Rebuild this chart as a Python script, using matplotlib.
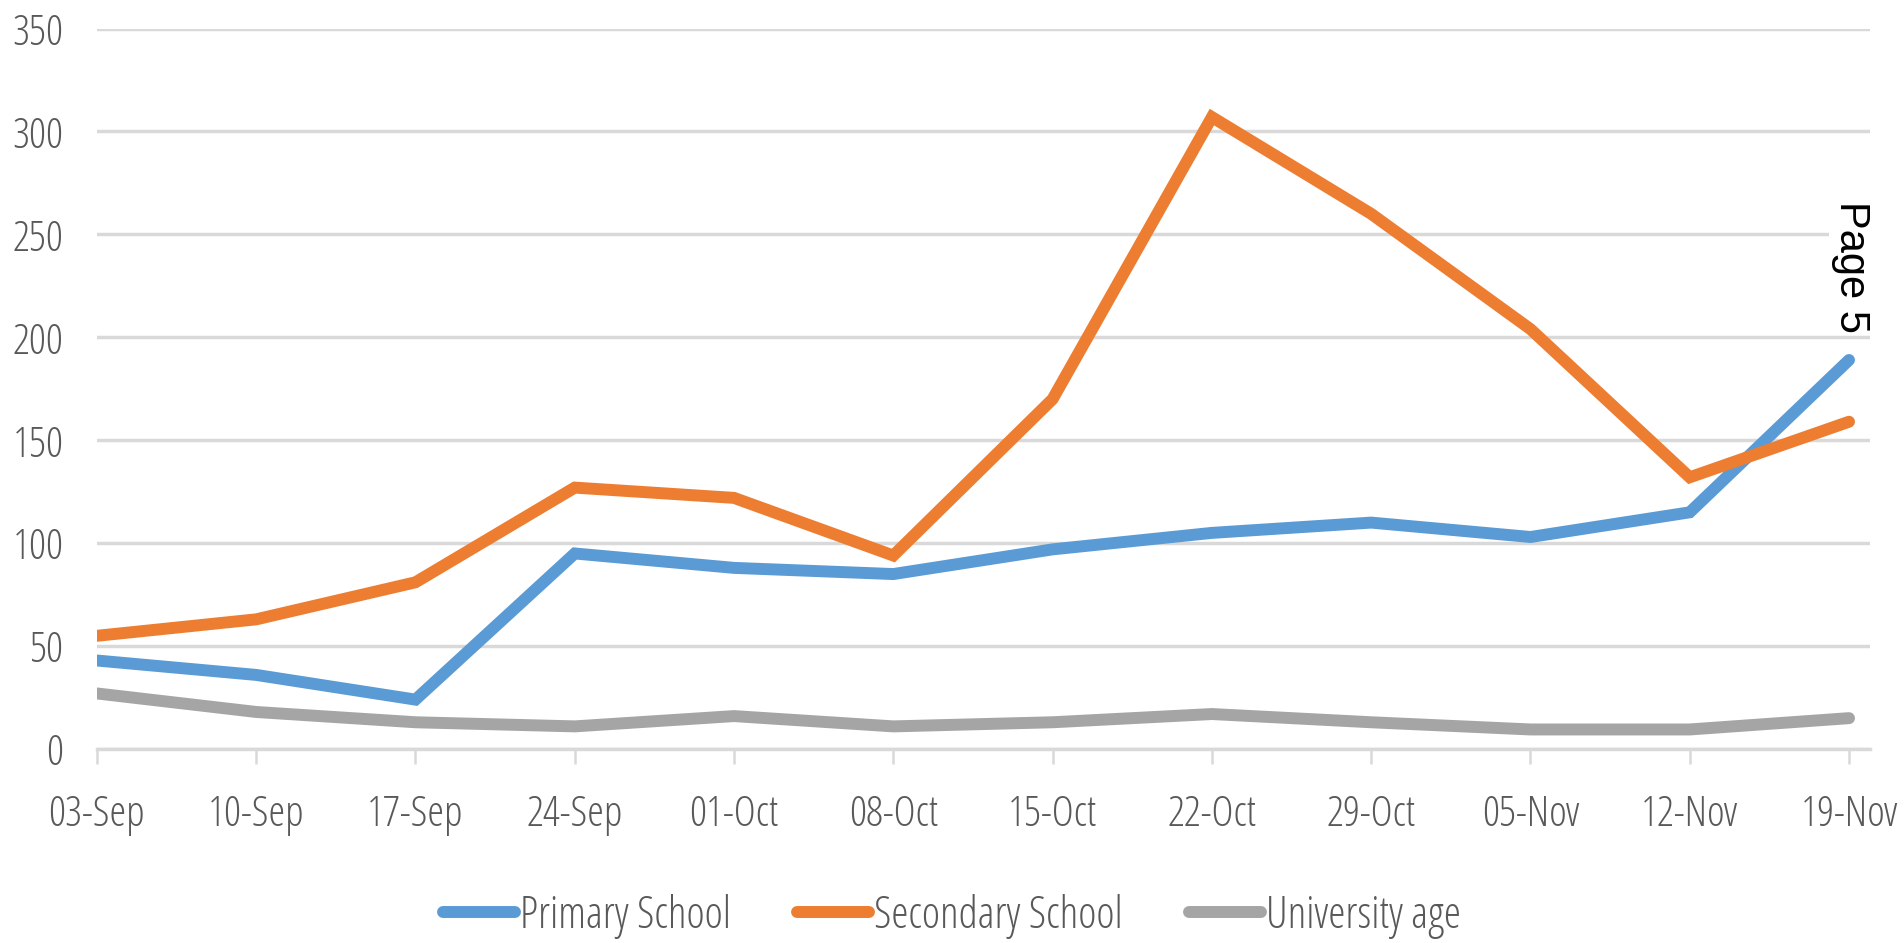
import matplotlib
matplotlib.use("Agg")
import matplotlib.pyplot as plt
from matplotlib import font_manager
from matplotlib.font_manager import FontProperties

categories = ["03-Sep", "10-Sep", "17-Sep", "24-Sep", "01-Oct", "08-Oct",
              "15-Oct", "22-Oct", "29-Oct", "05-Nov", "12-Nov", "19-Nov"]
primary = [43, 36, 24, 95, 88, 85, 97, 105, 110, 103, 115, 189]
secondary = [55, 63, 81, 127, 122, 94, 170, 307, 260, 204, 132, 159]
university = [27, 18, 13, 11, 16, 11, 13, 17, 13, 9.5, 9.5, 15]
series_names = ["Primary School", "Secondary School", "University age"]
series_colors = ["#5B9BD5", "#ED7D31", "#A5A5A5"]
y_ticks = [0, 50, 100, 150, 200, 250, 300, 350]

# pick a condensed font similar to a squeezed Calibri
cond_path = None
for f in font_manager.fontManager.ttflist:
    if f.name == "Open Sans" and f.stretch == "condensed" and f.style == "normal":
        cond_path = f.fname
        break
if cond_path is None:
    for f in font_manager.fontManager.ttflist:
        if f.name == "IBM Plex Sans Condensed" and f.style == "normal" and f.weight == 400:
            cond_path = f.fname
            break

def tfont(size):
    if cond_path:
        return FontProperties(fname=cond_path, size=size)
    return FontProperties(family="DejaVu Sans", size=size * 0.75)

FS = 30.5
FS_LEG = 31.5
fig = plt.figure(figsize=(19.04, 9.43), dpi=100)
ax = fig.add_axes([0.0509, 0.2057, 0.9311, 0.764])

x = list(range(len(categories)))
for vals, name, col in zip([primary, secondary, university], series_names, series_colors):
    ax.plot(x, vals, color=col, lw=8.6, label=name,
            solid_capstyle="round", solid_joinstyle="miter")

ax.set_xlim(0, 11.13)
ax.set_ylim(0, 350)
ax.set_yticks(y_ticks)
ax.set_xticks(x)
ax.set_xticklabels(categories)
ax.grid(axis="y", color="#D9D9D9", lw=2.5)
ax.set_axisbelow(True)
for s in ["top", "right", "left"]:
    ax.spines[s].set_visible(False)
ax.spines["bottom"].set_color("#D9D9D9")
ax.spines["bottom"].set_linewidth(2.5)
ax.tick_params(axis="y", length=0, pad=24, labelcolor="#595959")
ax.tick_params(axis="x", length=11, width=1.8, color="#D9D9D9", pad=21,
               labelcolor="#595959")
for lab in ax.get_xticklabels() + ax.get_yticklabels():
    lab.set_fontproperties(tfont(FS))

leg = fig.legend(loc="lower center", ncol=3, frameon=False,
                 bbox_to_anchor=(0.5, -0.037), handlelength=1.65,
                 handletextpad=0.12, columnspacing=1.5, prop=tfont(FS_LEG))
for t in leg.get_texts():
    t.set_color("#595959")
for h in leg.get_lines():
    h.set_linewidth(8.6)
    h.set_solid_capstyle("round")

fig.text(0.972, 0.717, "Page 5", rotation=-90, ha="center", va="center",
         fontsize=30, family="Liberation Sans", color="black",
         bbox=dict(facecolor="white", edgecolor="none", pad=1))

fig.savefig("out.png", dpi=100)
